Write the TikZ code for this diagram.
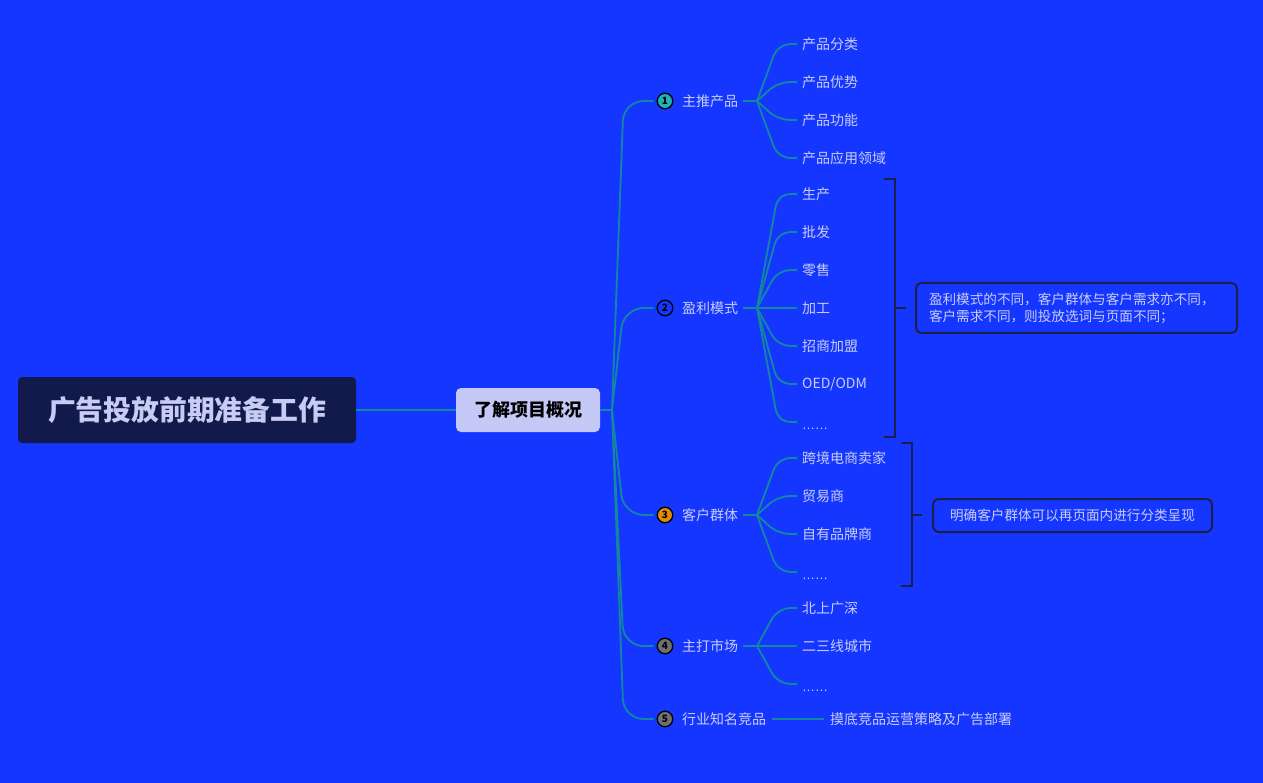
\documentclass[tikz,border=0pt]{standalone}
\usepackage{fontspec}
\setmainfont{Noto Sans CJK SC}
\newfontfamily\latdots{Liberation Sans}
\definecolor{bgc}{HTML}{1436FF}
\definecolor{rootfill}{HTML}{111A4A}
\definecolor{roottext}{HTML}{C8CCF4}
\definecolor{subjfill}{HTML}{C4C9F8}
\definecolor{linecol}{HTML}{1288A0}
\definecolor{txt}{HTML}{C9CDF5}
\definecolor{navy}{HTML}{1A1F4E}
\definecolor{mkone}{HTML}{20B3B5}
\definecolor{mkthree}{HTML}{E08C0B}
\definecolor{mkgray}{HTML}{707070}
\tikzset{
  conn/.style={draw=linecol, line width=1.8pt},
  mainconn/.style={conn, rounded corners=20pt},
  leafconn/.style={conn, rounded corners=12pt},
  leaf/.style={anchor=west, inner sep=0pt, text=txt, font=\fontsize{14}{16}\selectfont},
  dotsleaf/.style={leaf, font=\latdots\fontsize{13}{14}\selectfont},
  marker/.style={circle, draw=black, line width=1.3pt, minimum size=15.5pt, inner sep=0pt,
    font=\fontsize{10}{10}\selectfont\bfseries, text=black},
  bracket/.style={draw=navy, line width=2pt},
  sumbox/.style={draw=navy, line width=2pt, rounded corners=6pt, text=txt,
    font=\fontsize{13.6}{17}\selectfont, inner sep=0pt}
}
\begin{document}
\begin{tikzpicture}[x=1pt,y=-1pt]
\useasboundingbox (0,0) rectangle (1263,783);
\fill[bgc] (0,0) rectangle (1263,783);

% root and subject
\node[fill=rootfill, rounded corners=4pt, minimum width=338pt, minimum height=66pt, text=roottext,
  font=\fontsize{27.8}{30}\selectfont\bfseries] (root) at (187,410) {广告投放前期准备工作};
\node[fill=subjfill, rounded corners=5pt, minimum width=144pt, minimum height=44pt, text=black,
  font=\fontsize{18}{20}\selectfont\bfseries] (subj) at (528,410) {了解项目概况};
\draw[conn] (root.east) -- (subj.west);
\coordinate (hub) at (612,410);
\draw[conn] (subj.east) -- (hub);

% main topics
\node[marker, fill=mkone] (m1) at (665,101) {1};
\node[marker] (m2) at (665,308) {2};
\node[marker, fill=mkthree] (m3) at (665,515) {3};
\node[marker, fill=mkgray] (m4) at (665,646) {4};
\node[marker, fill=mkgray] (m5) at (665,719) {5};
\node[leaf] (t1) at (682,101) {主推产品};
\node[leaf] (t2) at (682,308) {盈利模式};
\node[leaf] (t3) at (682,515) {客户群体};
\node[leaf] (t4) at (682,646) {主打市场};
\node[leaf] (t5) at (682,719) {行业知名竞品};

\foreach \m in {m1,m2,m3,m4,m5}{
  \draw[mainconn] (hub) -- ([xshift=-33pt]\m.west) -- ([xshift=-3pt]\m.west);
}

% junctions
\coordinate (j1) at (757,101);
\coordinate (j2) at (757,308);
\coordinate (j3) at (757,515);
\coordinate (j4) at (757,646);
\draw[conn] ([xshift=5pt]t1.east) -- (j1);
\draw[conn] ([xshift=5pt]t2.east) -- (j2);
\draw[conn] ([xshift=5pt]t3.east) -- (j3);
\draw[conn] ([xshift=5pt]t4.east) -- (j4);

% children of 1
\node[leaf] (c11) at (802,44) {产品分类};
\node[leaf] (c12) at (802,82) {产品优势};
\node[leaf] (c13) at (802,120) {产品功能};
\node[leaf] (c14) at (802,158) {产品应用领域};
\foreach \c in {c11,c12,c13,c14}{
  \draw[leafconn] (j1) -- ([xshift=-24pt]\c.west) -- ([xshift=-5pt]\c.west);
}

% children of 2
\node[leaf] (c21) at (802,194) {生产};
\node[leaf] (c22) at (802,232) {批发};
\node[leaf] (c23) at (802,270) {零售};
\node[leaf] (c24) at (802,308) {加工};
\node[leaf] (c25) at (802,346) {招商加盟};
\node[leaf] (c26) at (802,384) {OED/ODM};
\node[dotsleaf] (c27) at (802,429) {……};
\foreach \c in {c21,c22,c23,c25,c26}{
  \draw[leafconn] (j2) -- ([xshift=-24pt]\c.west) -- ([xshift=-5pt]\c.west);
}
\draw[leafconn] (j2) -- ([xshift=-24pt,yshift=7pt]c27.west) -- ([xshift=-5pt,yshift=7pt]c27.west);
\draw[conn] (j2) -- ([xshift=-5pt]c24.west);

% children of 3
\node[leaf] (c31) at (802,458) {跨境电商卖家};
\node[leaf] (c32) at (802,496) {贸易商};
\node[leaf] (c33) at (802,534) {自有品牌商};
\node[dotsleaf] (c34) at (802,579) {……};
\foreach \c in {c31,c32,c33}{
  \draw[leafconn] (j3) -- ([xshift=-24pt]\c.west) -- ([xshift=-5pt]\c.west);
}
\draw[leafconn] (j3) -- ([xshift=-24pt,yshift=7pt]c34.west) -- ([xshift=-5pt,yshift=7pt]c34.west);

% children of 4
\node[leaf] (c41) at (802,608) {北上广深};
\node[leaf] (c42) at (802,646) {二三线城市};
\node[dotsleaf] (c43) at (802,691) {……};
\draw[leafconn] (j4) -- ([xshift=-24pt]c41.west) -- ([xshift=-5pt]c41.west);
\draw[leafconn] (j4) -- ([xshift=-24pt,yshift=7pt]c43.west) -- ([xshift=-5pt,yshift=7pt]c43.west);
\draw[conn] (j4) -- ([xshift=-5pt]c42.west);

% child of 5
\node[leaf] (c51) at (830,719) {摸底竞品运营策略及广告部署};
\draw[conn] ([xshift=6pt]t5.east) -- ([xshift=-6pt]c51.west);

% brackets and summaries
\draw[bracket] (884,179) -- (895,179) -- (895,437) -- (884,437);
\coordinate (b1) at (906,308);
\draw[bracket] (895,308) -- (b1);
\node[sumbox, minimum width=321pt, minimum height=50pt, align=left, text width=295pt, inner xsep=13pt]
  (s1) at (1076.5,308) {盈利模式的不同，客户群体与客户需求亦不同，\\客户需求不同，则投放选词与页面不同；};

\draw[bracket] (901,443) -- (912,443) -- (912,586) -- (901,586);
\coordinate (b2) at (922,515);
\draw[bracket] (912,515) -- (b2);
\node[sumbox, minimum width=279pt, minimum height=33pt] (s2) at (1072.5,515.5)
  {明确客户群体可以再页面内进行分类呈现};
\end{tikzpicture}
\end{document}
